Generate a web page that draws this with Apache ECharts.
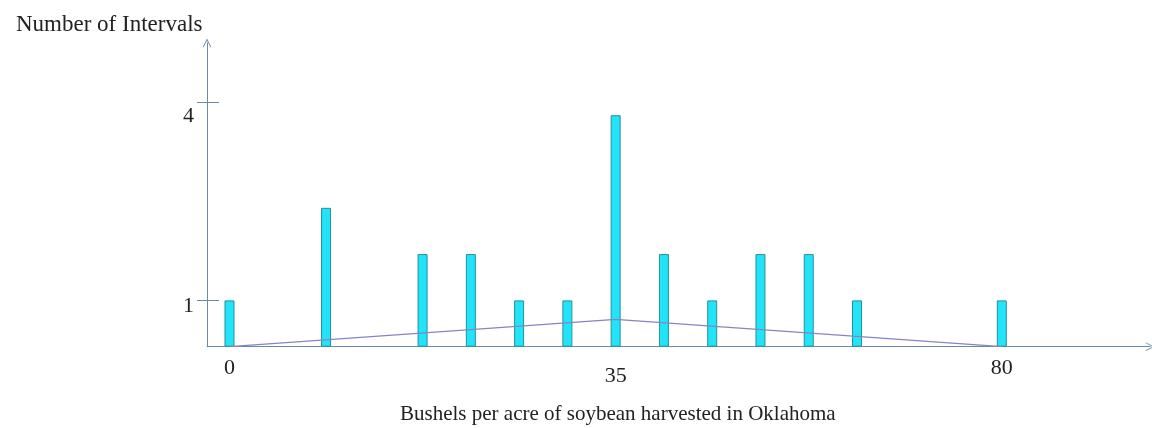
<!DOCTYPE html>
<html>
<head>
<meta charset="utf-8">
<script src="https://cdn.jsdelivr.net/npm/echarts@6/dist/echarts.min.js"></script>
<style>html,body{margin:0;padding:0;background:#fff}#c{width:1152px;height:428px}</style>
</head>
<body>
<div id="c"></div>
<script>
// Bar slots along the x axis (equal spacing units) and their heights
var barSlots = [0, 2, 4, 5, 6, 7, 8, 9, 10, 11, 12, 13, 16];
var barValues = [1, 3, 2, 2, 1, 1, 5, 2, 1, 2, 2, 1, 1];
// Polygon (triangle) line
var polySlots = [0, 8, 16];
var polyValues = [0, 0.59, 0];
// X tick labels
var xLabelSlots = [0, 8, 16];
var xLabelTexts = ['0', '35', '80'];
// Y ticks and labels
var yTickValues = [1, 5.29];
var yLabelValues = [0.87, 4.98];
var yLabelTexts = ['1', '4'];
var yTitle = 'Number of Intervals';
var xTitle = 'Bushels per acre of soybean harvested in Oklahoma';

var FONT = 'Liberation Serif';
var AXIS = '#6b88a6';
var chevron = 'path://M0,10 L5,0 L10,10 L9.2,10.5 L5,2.2 L0.8,10.5 Z';

var barData = barSlots.map(function (s, i) { return [s, barValues[i]]; });
var polyData = polySlots.map(function (s, i) { return [s, polyValues[i]]; });

var chart = echarts.init(document.getElementById('c'), null, {renderer: 'canvas'});
chart.setOption({
  animation: false,
  backgroundColor: '#ffffff',
  title: [
    {text: yTitle, left: 11, top: 8, textStyle: {fontFamily: FONT, fontSize: 23, fontWeight: 'normal', color: '#222'}},
    {text: xTitle, left: 395, top: 399, textStyle: {fontFamily: FONT, fontSize: 21, fontWeight: 'normal', color: '#222'}}
  ],
  grid: {left: 207, right: 2, top: 43, bottom: 81.3, containLabel: false},
  xAxis: {
    type: 'value', min: -0.466, max: 19.07,
    splitLine: {show: false},
    axisLine: {show: true, onZero: false, lineStyle: {color: AXIS, width: 1}, symbol: ['none', chevron], symbolSize: [11, 9]},
    axisTick: {show: false},
    axisLabel: {
      customValues: xLabelSlots, margin: 11,
      fontFamily: FONT, fontSize: 22, color: '#222',
      formatter: function (v) {
        var i = xLabelSlots.indexOf(v);
        var t = i >= 0 ? xLabelTexts[i] : '';
        return t === '35' ? '{low|' + t + '}' : t;
      },
      rich: {low: {fontFamily: FONT, fontSize: 22, color: '#222', padding: [8, 0, 0, 0]}}
    }
  },
  yAxis: [{
    type: 'value', min: 0, max: 6.56,
    splitLine: {show: false},
    axisLine: {show: true, onZero: false, lineStyle: {color: AXIS, width: 1}, symbol: ['none', chevron], symbolSize: [11, 9]},
    axisTick: {show: true, customValues: yTickValues, length: 10, lineStyle: {color: AXIS}},
    axisLabel: {
      customValues: yLabelValues, margin: 13,
      fontFamily: FONT, fontSize: 22, color: '#222',
      formatter: function (v) {
        var i = yLabelValues.indexOf(v);
        return i >= 0 ? yLabelTexts[i] : '';
      }
    }
  }, {
    type: 'value', min: 0, max: 6.56, position: 'left',
    splitLine: {show: false},
    axisLine: {show: false, onZero: false},
    axisTick: {show: true, inside: true, customValues: yTickValues, length: 12, lineStyle: {color: AXIS}},
    axisLabel: {show: false}
  }],
  series: [{
    type: 'bar',
    data: barData,
    barWidth: 10,
    itemStyle: {color: '#22e4f8', borderColor: '#2b8e9c', borderWidth: 1},
    z: 2
  }, {
    type: 'line',
    data: polyData,
    symbol: 'none',
    lineStyle: {color: '#8883c4', width: 1.2},
    z: 3
  }]
});
</script>
</body>
</html>
